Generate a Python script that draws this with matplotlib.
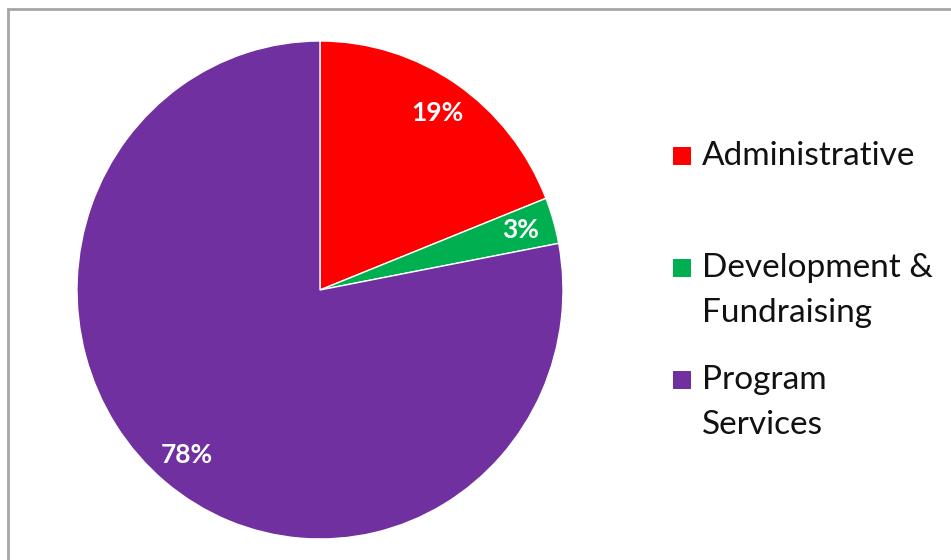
import matplotlib
matplotlib.use("Agg")
import matplotlib.pyplot as plt
from matplotlib.patches import Rectangle

plt.rcParams['font.family'] = ['Lato', 'DejaVu Sans']

# data
categories = ["Administrative", "Development &\nFundraising", "Program\nServices"]
shares = [19, 3, 78]
colors = ["#FF0000", "#00B050", "#7030A0"]

W, H = 951, 560
fig = plt.figure(figsize=(W / 100, H / 100), dpi=100)

# outer chart border (right/bottom edges fall outside the image)
fig.add_artist(Rectangle((8, H - 9 - 1000), 1000, 1000, transform=None,
                         fill=False, edgecolor="#a6a6a6", linewidth=2))

cx, cy, rx, ry = 320, 270, 243, 249
ax = fig.add_axes([(cx - rx) / W, (cy - ry) / H, 2 * rx / W, 2 * ry / H])
wedges, texts, autotexts = ax.pie(
    shares, colors=colors, startangle=90, counterclock=False,
    autopct=lambda p: f"{p:.0f}%", pctdistance=0.86,
    wedgeprops=dict(edgecolor="white", linewidth=1),
    textprops=dict(color="white", fontsize=19, fontweight="bold"))
ax.set_aspect("auto")
ax.set_xlim(-1, 1)
ax.set_ylim(-1, 1)
ax.axis("off")

# legend, drawn by hand to get Excel-like spacing
lx, ly0, step, line_h = 673, 156, 112, 45
for i, (lab, col) in enumerate(zip(categories, colors)):
    y = ly0 + i * step
    fig.add_artist(Rectangle((lx / W, 1 - (y + 9) / H), 18 / W, 18 / H,
                             transform=fig.transFigure, facecolor=col,
                             edgecolor="none"))
    for j, line in enumerate(lab.split("\n")):
        fig.text((lx + 29) / W, 1 - (y + j * line_h) / H, line,
                 fontsize=24, color="#111111", va="center", ha="left")

fig.savefig("out.png", dpi=100)
